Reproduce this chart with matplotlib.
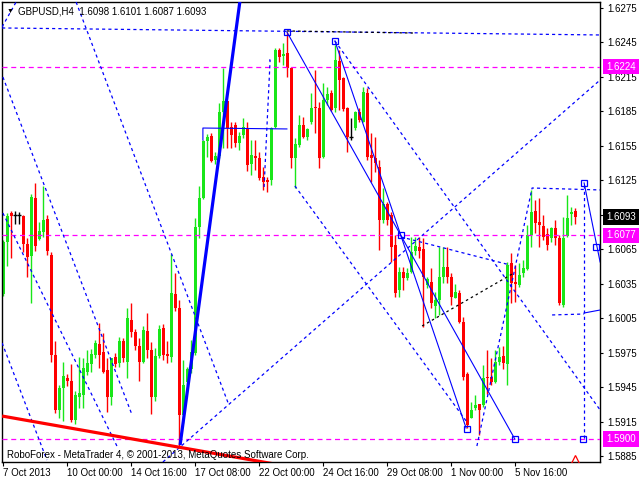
import numpy as np
import matplotlib.pyplot as plt
from matplotlib.transforms import blended_transform_factory

plt.rcParams['font.family'] = ['Liberation Sans', 'DejaVu Sans']

# GBPUSD H4 candles, 7 Oct 08:00 .. 7 Nov 2013
opens = [1.60260, 1.60716, 1.60963, 1.60948, 1.60948, 1.60942, 1.60696, 1.60591, 1.61096, 1.60739,
         1.60803, 1.60913, 1.60600, 1.59729, 1.59251, 1.59439, 1.59529, 1.59500, 1.59164, 1.59366,
         1.59381, 1.59584, 1.59651, 1.59729, 1.59825, 1.59755, 1.59599, 1.59364, 1.59712, 1.59660,
         1.59851, 1.59668, 1.60034, 1.59930, 1.59808, 1.59668, 1.59939, 1.59773, 1.59364, 1.59721,
         1.59964, 1.59738, 1.59712, 1.60260, 1.60138, 1.59207, 1.59494, 1.59607, 1.59747, 1.60844,
         1.61096, 1.61592, 1.61636, 1.61427, 1.61462, 1.61845, 1.61940, 1.61714, 1.61731, 1.61575,
         1.61644, 1.61705, 1.61392, 1.61462, 1.61444, 1.61279, 1.61253, 1.61253, 1.61714, 1.62384,
         1.62332, 1.62358, 1.62228, 1.61444, 1.61557, 1.61731, 1.61627, 1.61758, 1.61888, 1.61879,
         1.61453, 1.61949, 1.62010, 1.61879, 1.62289, 1.62141, 1.61879, 1.61627, 1.61705, 1.61845,
         1.61758, 1.62010, 1.61470, 1.61444, 1.61366, 1.60905, 1.61044, 1.60948, 1.60687, 1.60295,
         1.60452, 1.60400, 1.60452, 1.60635, 1.60670, 1.60652, 1.60339, 1.60365, 1.60156, 1.60208,
         1.60408, 1.60495, 1.60408, 1.60226, 1.60269, 1.60017, 1.59564, 1.59181, 1.59268, 1.59303,
         1.59294, 1.59538, 1.59538, 1.59494, 1.59668, 1.59721, 1.59651, 1.60530, 1.60365, 1.60339,
         1.60443, 1.60478, 1.60774, 1.60983, 1.60887, 1.60852, 1.60783, 1.60748, 1.60835, 1.60748,
         1.60165, 1.60765, 1.60957, 1.60980]
highs = [1.60730, 1.60968, 1.60985, 1.60983, 1.60977, 1.60948, 1.60745, 1.61131, 1.61224, 1.60890,
         1.61201, 1.60948, 1.60629, 1.59851, 1.59468, 1.59666, 1.59564, 1.59651, 1.59416, 1.59715,
         1.59701, 1.59773, 1.59779, 1.59860, 1.60008, 1.59921, 1.59703, 1.59599, 1.59747, 1.59886,
         1.59877, 1.60138, 1.60182, 1.59956, 1.59877, 1.59982, 1.60095, 1.59843, 1.59790, 1.59991,
         1.59999, 1.59851, 1.60609, 1.60443, 1.60208, 1.59686, 1.59625, 1.59860, 1.60922, 1.61201,
         1.61601, 1.61653, 1.61662, 1.61496, 1.61923, 1.62228, 1.61940, 1.61758, 1.61758, 1.61671,
         1.61792, 1.61758, 1.61601, 1.61601, 1.61496, 1.61366, 1.61279, 1.61714, 1.62402, 1.62402,
         1.62445, 1.62541, 1.62236, 1.61618, 1.61819, 1.61801, 1.61705, 1.62010, 1.62210, 1.61932,
         1.62097, 1.62062, 1.62036, 1.62428, 1.62384, 1.62149, 1.61888, 1.61792, 1.61853, 1.61879,
         1.62062, 1.62054, 1.61662, 1.61627, 1.61427, 1.61183, 1.61061, 1.60974, 1.60774, 1.60495,
         1.60495, 1.60487, 1.60757, 1.60757, 1.60757, 1.60748, 1.60408, 1.60487, 1.60278, 1.60670,
         1.60670, 1.60670, 1.60443, 1.60347, 1.60295, 1.60060, 1.59581, 1.59320, 1.59381, 1.59303,
         1.59642, 1.59773, 1.59703, 1.59773, 1.59799, 1.59808, 1.60539, 1.60617, 1.60513, 1.60530,
         1.60556, 1.60861, 1.61166, 1.61079, 1.61096, 1.60948, 1.60835, 1.60844, 1.60905, 1.60774,
         1.60931, 1.61122, 1.61018, 1.61010]
lows = [1.60243, 1.60507, 1.60571, 1.60870, 1.60867, 1.60629, 1.60411, 1.60185, 1.60635, 1.60730,
        1.60754, 1.60600, 1.59671, 1.59222, 1.59184, 1.59155, 1.59462, 1.59149, 1.59126, 1.59265,
        1.59265, 1.59555, 1.59584, 1.59703, 1.59616, 1.59573, 1.59233, 1.59294, 1.59625, 1.59625,
        1.59668, 1.59529, 1.59886, 1.59773, 1.59503, 1.59659, 1.59703, 1.59216, 1.59329, 1.59703,
        1.59686, 1.59659, 1.59668, 1.60112, 1.58929, 1.59137, 1.59468, 1.59573, 1.59729, 1.60748,
        1.61087, 1.61453, 1.61410, 1.61392, 1.61444, 1.61531, 1.61531, 1.61531, 1.61540, 1.61514,
        1.61618, 1.61331, 1.61296, 1.61340, 1.61253, 1.61166, 1.61148, 1.61209, 1.61705, 1.62280,
        1.62254, 1.62149, 1.61357, 1.61183, 1.61540, 1.61618, 1.61601, 1.61740, 1.61662, 1.61357,
        1.61444, 1.61906, 1.61853, 1.61845, 1.61862, 1.61853, 1.61496, 1.61601, 1.61688, 1.61758,
        1.61758, 1.61427, 1.61235, 1.61322, 1.60643, 1.60878, 1.60861, 1.60539, 1.60234, 1.60234,
        1.60295, 1.60382, 1.60443, 1.60600, 1.60571, 1.59973, 1.60313, 1.60138, 1.60051, 1.60078,
        1.60356, 1.60356, 1.60165, 1.60226, 1.60008, 1.59512, 1.59094, 1.59181, 1.59251, 1.59033,
        1.59277, 1.59390, 1.59468, 1.59486, 1.59642, 1.59607, 1.59468, 1.60182, 1.60191, 1.60321,
        1.60408, 1.60470, 1.60670, 1.60791, 1.60670, 1.60730, 1.60643, 1.60713, 1.60687, 1.60165,
        1.60147, 1.60757, 1.60861, 1.60870]
closes = [1.60716, 1.60939, 1.60942, 1.60948, 1.60948, 1.60696, 1.60580, 1.61105, 1.60678, 1.60811,
          1.60905, 1.60635, 1.59729, 1.59251, 1.59439, 1.59547, 1.59506, 1.59164, 1.59381, 1.59396,
          1.59614, 1.59657, 1.59738, 1.59834, 1.59729, 1.59581, 1.59364, 1.59700, 1.59651, 1.59851,
          1.59703, 1.60051, 1.59930, 1.59808, 1.59668, 1.59947, 1.59773, 1.59364, 1.59721, 1.59956,
          1.59729, 1.59721, 1.60269, 1.60138, 1.59207, 1.59468, 1.59607, 1.59755, 1.60844, 1.61096,
          1.61592, 1.61627, 1.61418, 1.61462, 1.61845, 1.61940, 1.61705, 1.61644, 1.61575, 1.61636,
          1.61714, 1.61383, 1.61470, 1.61444, 1.61270, 1.61235, 1.61235, 1.61705, 1.62384, 1.62323,
          1.62350, 1.62228, 1.61444, 1.61566, 1.61731, 1.61627, 1.61697, 1.61879, 1.61879, 1.61444,
          1.61949, 1.62001, 1.61862, 1.62297, 1.62123, 1.61871, 1.61627, 1.61627, 1.61845, 1.61775,
          1.62019, 1.61453, 1.61444, 1.61401, 1.60905, 1.61044, 1.60905, 1.60670, 1.60269, 1.60452,
          1.60400, 1.60443, 1.60626, 1.60678, 1.60635, 1.60408, 1.60391, 1.60182, 1.60208, 1.60408,
          1.60495, 1.60408, 1.60234, 1.60278, 1.60017, 1.59538, 1.59120, 1.59251, 1.59294, 1.59251,
          1.59529, 1.59529, 1.59494, 1.59668, 1.59712, 1.59659, 1.60513, 1.60356, 1.60347, 1.60426,
          1.60487, 1.60774, 1.60974, 1.60878, 1.60861, 1.60757, 1.60687, 1.60835, 1.60748, 1.60182,
          1.60748, 1.60922, 1.60974, 1.60930]

date_bars = [0, 16, 32, 48, 64, 80, 96, 112, 128]
date_labels = ['7 Oct 2013', '10 Oct 00:00', '14 Oct 16:00', '17 Oct 08:00', '22 Oct 00:00',
               '24 Oct 16:00', '29 Oct 08:00', '1 Nov 00:00', '5 Nov 16:00']
price_ticks = [1.5885, 1.5915, 1.5945, 1.5975, 1.6005, 1.6035, 1.6065, 1.6095,
               1.6125, 1.6155, 1.6185, 1.6215, 1.6245, 1.6275]
levels = [1.6224, 1.6077, 1.5900]

# analysis objects: (bar, price) anchor points
thick_blue = [(44.2, 1.58946), (59.2, 1.62820)]
thick_red = [(-0.3, 1.59198), (69.2, 1.58772)]
dashed_blue = [
    [(-0.3, 1.62576), (149.2, 1.62515)],
    [(-0.3, 1.62585), (3.2, 1.62802)],
    [(18.2, 1.62802), (56.2, 1.59312)],
    [(-0.1, 1.62149), (32.2, 1.59207)],
    [(-0.1, 1.60965), (28.7, 1.58916)],
    [(-0.3, 1.59834), (10.9, 1.58815)],
    [(39.9, 1.58798), (149.2, 1.62123)],
    [(82.9, 1.62463), (149.2, 1.59251)],
    [(72.9, 1.61201), (115.9, 1.59146)],
    [(99.4, 1.60757), (126.7, 1.60513)],
    [(118.4, 1.58937), (132.2, 1.61183), (149.2, 1.61166)],
    [(145.2, 1.61209), (145.2, 1.5900)],
    [(65.2, 1.61192), (66.7, 1.62297), (65.9, 1.62297)],
    [(137.2, 1.60078), (145.2, 1.60086)],
]
solid_blue = [
    [(70.9, 1.62541), (127.9, 1.58997)],
    [(82.9, 1.62463), (115.7, 1.59094)],
    [(145.2, 1.61227), (149.2, 1.60539)],
    [(145.2, 1.60095), (149.2, 1.60121)],
    [(49.9, 1.61600), (49.9, 1.61705), (70.9, 1.61697)],
]
dotted_black = [
    [(70.9, 1.62550), (102.4, 1.62532)],
    [(104.7, 1.59982), (127.2, 1.60434)],
]
squares_x = [70.9, 82.9, 99.4, 115.9, 127.9, 145.2, 148.2, 144.9]
squares_y = [1.62541, 1.62463, 1.60774, 1.59085, 1.58998, 1.61227, 1.60669, 1.58997]

GREEN = '#19e619'
RED = '#ff0000'
BLUE = '#0000ff'
MAGENTA = '#ff00ff'

o = np.array(opens)
h = np.array(highs)
l = np.array(lows)
c = np.array(closes)
x = np.arange(len(o))
up = c > o
dn = c < o
dj = c == o

fig = plt.figure(figsize=(6.4, 4.8), dpi=100)
ax = fig.add_axes([2/640, 18/480, 598/640, 460/480])

ax.vlines(x[up], l[up], h[up], color=GREEN, lw=1, zorder=2)
ax.bar(x[up], np.maximum(c[up]-o[up], 0.00005), bottom=o[up], width=0.75, color=GREEN, lw=0, zorder=2)
ax.vlines(x[dn], l[dn], h[dn], color=RED, lw=1, zorder=2)
ax.bar(x[dn], np.maximum(o[dn]-c[dn], 0.00005), bottom=c[dn], width=0.75, color=RED, lw=0, zorder=2)
ax.vlines(x[dj], l[dj], h[dj], color='black', lw=1, zorder=2)
ax.hlines(o[dj], x[dj]-0.5, x[dj]+0.5, color='black', lw=1, zorder=2)

for lv in levels:
    ax.axhline(lv, color=MAGENTA, ls=(0, (4, 3)), lw=0.9, zorder=3)

for pts in dashed_blue:
    px, py = zip(*pts)
    ax.plot(px, py, color=BLUE, ls=(0, (2.5, 2.5)), lw=0.9, zorder=4)
for pts in solid_blue:
    px, py = zip(*pts)
    ax.plot(px, py, color=BLUE, lw=0.8, zorder=4)
for pts in dotted_black:
    px, py = zip(*pts)
    ax.plot(px, py, color='black', ls=(0, (2, 2.5)), lw=0.9, zorder=4)
px, py = zip(*thick_red)
ax.plot(px, py, color=RED, lw=2.3, zorder=4, solid_capstyle='butt')
px, py = zip(*thick_blue)
ax.plot(px, py, color=BLUE, lw=2.3, zorder=5, solid_capstyle='butt')
ax.plot(squares_x, squares_y, 's', ms=4, mfc='none', mec=BLUE, mew=0.9, zorder=6)
ax.plot([142.9], [1.58824], '^', ms=6, mfc='none', mec=RED, mew=0.9, zorder=6)

ax.set_xlim(-0.325, 149.175)
ax.set_ylim(1.58798, 1.62802)

# the current-price box hides the 1.6095 label in the terminal
hidden_tick = 1.6095
ax.yaxis.tick_right()
ax.set_yticks(price_ticks)
ax.set_yticklabels(['' if abs(t - hidden_tick) < 1e-6 else '%.4f' % t for t in price_ticks])
ax.tick_params(axis='y', direction='out', length=2.5, width=0.8, pad=3, labelsize=7)
ax.set_xticks(date_bars)
ax.set_xticklabels(date_labels)
ax.tick_params(axis='x', direction='out', length=3, width=0.8, pad=1.5, labelsize=7)
for lab in ax.get_xticklabels():
    lab.set_horizontalalignment('left')
for sp in ax.spines.values():
    sp.set_linewidth(1)

tr = blended_transform_factory(ax.transAxes, ax.transData)
for lv in levels:
    ax.text(1.0 + 6/598, lv, '%.4f' % lv, transform=tr, ha='left', va='center', fontsize=7,
            color='white', clip_on=False, zorder=10,
            bbox=dict(boxstyle='square,pad=0.3', fc=MAGENTA, ec='none'))
ax.text(1.0 + 6/598, closes[-1], '%.4f' % closes[-1], transform=tr, ha='left', va='center',
        fontsize=7, color='white', clip_on=False, zorder=10,
        bbox=dict(boxstyle='square,pad=0.3', fc='black', ec='none'))

fig.text(7/640, 1 - 11/480, '\u25bc', fontsize=5, ha='left', va='center')
fig.text(18/640, 1 - 11/480, 'GBPUSD,H4  %.4f %.4f %.4f %.4f' % (opens[-1], highs[-1], lows[-1], closes[-1]),
         fontsize=7, ha='left', va='center')
fig.text(7/640, 1 - 455/480, 'RoboForex - MetaTrader 4, \u00a9 2001-2013, MetaQuotes Software Corp.',
         fontsize=7, ha='left', va='center')

fig.savefig('out.png', dpi=100)
